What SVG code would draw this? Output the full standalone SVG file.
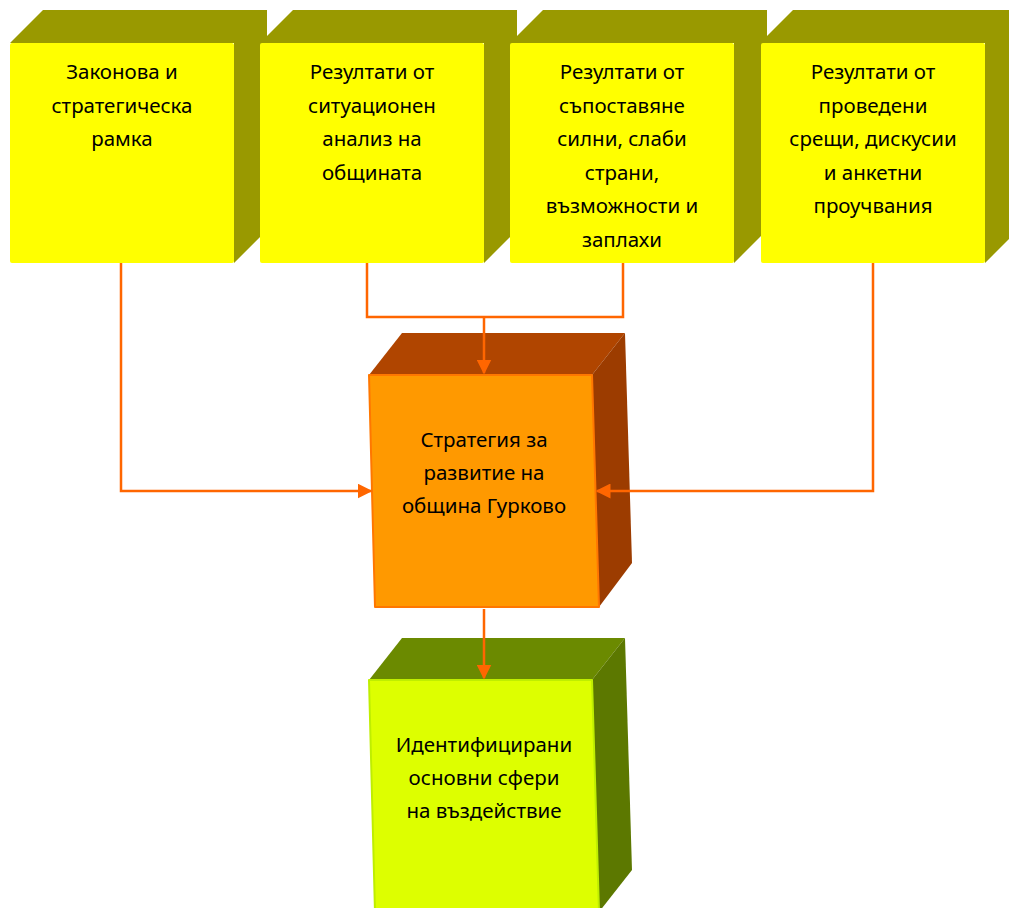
<svg xmlns="http://www.w3.org/2000/svg" width="1009" height="908" viewBox="0 0 1009 908">
<defs>
<style>
.t{font-family:"Noto Sans","Open Sans",sans-serif;font-size:20.5px;fill:#000;text-anchor:middle}
.yf{fill:#FFFF00}
.yd{fill:#999900}
.con{fill:none;stroke:#FF6600;stroke-width:2.5}
</style>
<marker id="ah" viewBox="0 0 10 10" refX="9" refY="5" markerWidth="6" markerHeight="6" markerUnits="strokeWidth" orient="auto">
<path d="M0,0 L10,5 L0,10 z" fill="#FF6600"/>
</marker>
</defs>
<rect width="1009" height="908" fill="#fff"/>
<g id="box1">
<polygon class="yd" points="10,43 43,10 267,10 267,230 234,263 234,43"/>
<rect class="yf" x="10" y="43" width="224" height="220" rx="2"/>
<text class="t" x="122" y="79">Законова и</text>
<text class="t" x="122" y="112.5">стратегическа</text>
<text class="t" x="122" y="146">рамка</text>
</g>
<g id="box2">
<polygon class="yd" points="260,43 293,10 517,10 517,230 484,263 484,43"/>
<rect class="yf" x="260" y="43" width="224" height="220" rx="2"/>
<text class="t" x="372" y="79">Резултати от</text>
<text class="t" x="372" y="112.5">ситуационен</text>
<text class="t" x="372" y="146">анализ на</text>
<text class="t" x="372" y="179.5">общината</text>
</g>
<g id="box3">
<polygon class="yd" points="510,43 543,10 767,10 767,230 734,263 734,43"/>
<rect class="yf" x="510" y="43" width="224" height="220" rx="2"/>
<text class="t" x="622" y="79">Резултати от</text>
<text class="t" x="622" y="112.5">съпоставяне</text>
<text class="t" x="622" y="146">силни, слаби</text>
<text class="t" x="622" y="179.5">страни,</text>
<text class="t" x="622" y="213">възможности и</text>
<text class="t" x="622" y="246.5">заплахи</text>
</g>
<g id="box4">
<polygon class="yd" points="760,43 793,10 1018,10 1018,230 985,263 985,43"/>
<rect class="yf" x="761" y="43" width="224" height="220" rx="2"/>
<text class="t" x="873" y="79">Резултати от</text>
<text class="t" x="873" y="112.5">проведени</text>
<text class="t" x="873" y="146">срещи, дискусии</text>
<text class="t" x="873" y="179.5">и анкетни</text>
<text class="t" x="873" y="213">проучвания</text>
</g>
<g id="strategy">
<polygon fill="#B04500" points="369,375 402,333 625,333 592,375"/>
<polygon fill="#9C3C00" points="592,375 625,333 632,563 599,607"/>
<polygon fill="#FF9900" stroke="#FF7700" stroke-width="2" stroke-linejoin="round" points="369,375 592,375 599,607 375,607"/>
<text class="t" x="484" y="447">Стратегия за</text>
<text class="t" x="484" y="480">развитие на</text>
<text class="t" x="484" y="513">община Гурково</text>
</g>
<g id="spheres">
<polygon fill="#6B8A00" points="369,680 402,638 625,638 592,680"/>
<polygon fill="#5C7800" points="592,680 625,638 632,870 599,912"/>
<polygon fill="#DDFF00" stroke="#BFEE00" stroke-width="2" stroke-linejoin="round" points="369,680 592,680 599,912 375,912"/>
<text class="t" x="484" y="752">Идентифицирани</text>
<text class="t" x="484" y="785">основни сфери</text>
<text class="t" x="484" y="818">на въздействие</text>
</g>
<g id="connectors">
<polyline class="con" points="121,263 121,491 371,491" marker-end="url(#ah)"/>
<polyline class="con" points="367,263 367,317 623,317 623,263"/>
<polyline class="con" points="484,317 484,373" marker-end="url(#ah)"/>
<polyline class="con" points="873,263 873,491 597,491" marker-end="url(#ah)"/>
<polyline class="con" points="484,609 484,678" marker-end="url(#ah)"/>
</g>
</svg>
